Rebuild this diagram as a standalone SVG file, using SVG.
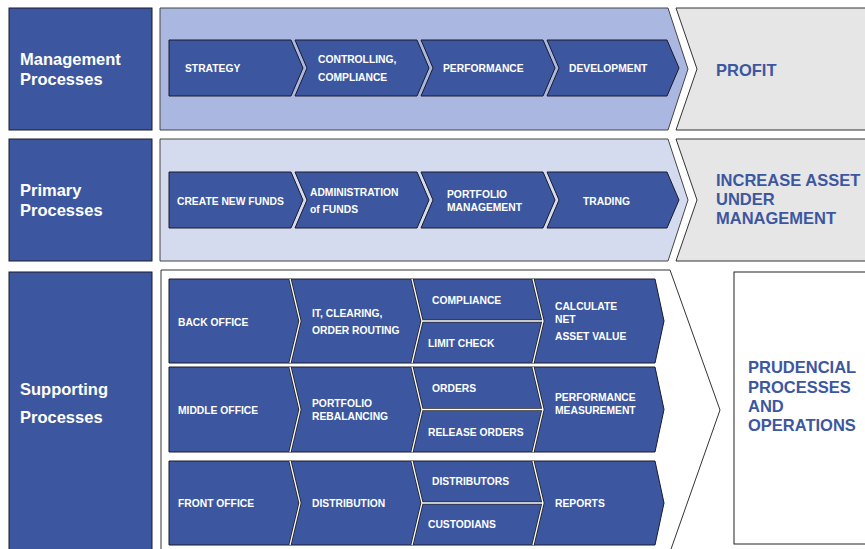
<svg xmlns="http://www.w3.org/2000/svg" width="865" height="549" viewBox="0 0 865 549">
<style>
.lbl{fill:#3c57a0;stroke:#1a1a2a;stroke-width:1}
.big{font-family:"Liberation Sans",Arial,sans-serif;font-weight:bold;font-size:16.5px;fill:#fff}
.res{font-family:"Liberation Sans",Arial,sans-serif;font-weight:bold;font-size:16.5px;fill:#3c57a0}
.sm{font-family:"Liberation Sans",Arial,sans-serif;font-weight:bold;font-size:10.3px;fill:#fff}
.chev{fill:#3c57a0;stroke:#1a1a2a;stroke-width:1}
.grey{fill:#e6e6e6;stroke:#333;stroke-width:1}
.sepd{fill:none;stroke:#222;stroke-width:3}
.sepw{fill:none;stroke:#fff;stroke-width:1.3}
</style>
<rect width="865" height="549" fill="#fff"/>

<!-- Management row -->
<g id="mgmt-label">
<rect class="lbl" x="9" y="8" width="143" height="122"/>
<text class="big" x="20" y="65">Management</text>
<text class="big" x="20" y="85">Processes</text>
</g>
<g id="mgmt-band">
<polygon points="160,8 668,8 688,69 668,130 160,130" fill="#aab7e0" stroke="#444" stroke-width="1"/>
</g>
<g id="strategy">
<polygon class="chev" points="169,40 291,40 303,68 291,96 169,96"/>
<text class="sm" x="185" y="72">STRATEGY</text>
</g>
<g id="controlling">
<polygon class="chev" points="295,40 417,40 429,68 417,96 295,96 307,68"/>
<text class="sm" x="318" y="63">CONTROLLING,</text>
<text class="sm" x="318" y="81">COMPLIANCE</text>
</g>
<g id="performance">
<polygon class="chev" points="421,40 543,40 555,68 543,96 421,96 433,68"/>
<text class="sm" x="443" y="72">PERFORMANCE</text>
</g>
<g id="development">
<polygon class="chev" points="547,40 667,40 679,68 667,96 547,96 559,68"/>
<text class="sm" x="569" y="72">DEVELOPMENT</text>
</g>
<g id="profit">
<polygon class="grey" points="676,8 866,8 866,130 676,130 697,69"/>
<text class="res" x="716" y="76">PROFIT</text>
</g>

<!-- Primary row -->
<g id="primary-label">
<rect class="lbl" x="9" y="139" width="143" height="122"/>
<text class="big" x="20" y="196">Primary</text>
<text class="big" x="20" y="216">Processes</text>
</g>
<g id="primary-band">
<polygon points="160,139 668,139 688,200 668,261 160,261" fill="#d5dbef" stroke="#444" stroke-width="1"/>
</g>
<g id="create-funds">
<polygon class="chev" points="169,172 291,172 303,200 291,228 169,228"/>
<text class="sm" x="177" y="205">CREATE NEW FUNDS</text>
</g>
<g id="administration">
<polygon class="chev" points="295,172 417,172 429,200 417,228 295,228 307,200"/>
<text class="sm" x="310" y="196">ADMINISTRATION</text>
<text class="sm" x="310" y="213">of FUNDS</text>
</g>
<g id="portfolio-mgmt">
<polygon class="chev" points="421,172 543,172 555,200 543,228 421,228 433,200"/>
<text class="sm" x="447" y="198">PORTFOLIO</text>
<text class="sm" x="447" y="211">MANAGEMENT</text>
</g>
<g id="trading">
<polygon class="chev" points="547,172 667,172 679,200 667,228 547,228 559,200"/>
<text class="sm" x="583" y="205">TRADING</text>
</g>
<g id="increase-aum">
<polygon class="grey" points="676,139 866,139 866,261 676,261 697,200"/>
<text class="res" x="716" y="186">INCREASE ASSET</text>
<text class="res" x="716" y="205">UNDER</text>
<text class="res" x="716" y="224">MANAGEMENT</text>
</g>

<!-- Supporting -->
<g id="supporting-label">
<rect class="lbl" x="9" y="272" width="143" height="280"/>
<text class="big" x="20" y="395">Supporting</text>
<text class="big" x="20" y="423">Processes</text>
</g>
<g id="supporting-frame">
<polyline points="161,552 161,270 670,270 720,410 670,552" fill="#fff" stroke="#333" stroke-width="1"/>
</g>

<g id="back-office-row">
<polygon class="chev" points="169,279 655,279 664,321 655,363 169,363"/>
<path class="sepd" d="M290,279 L300,321 L290,363 M412,279 L422,321 L412,363 M533,279 L543,321 L533,363 M422,321 L543,321"/>
<path class="sepw" d="M290,279 L300,321 L290,363 M412,279 L422,321 L412,363 M533,279 L543,321 L533,363 M422,321 L543,321"/>
<text class="sm" x="178" y="326">BACK OFFICE</text>
<text class="sm" x="312" y="317">IT, CLEARING,</text>
<text class="sm" x="312" y="334">ORDER ROUTING</text>
<text class="sm" x="432" y="304">COMPLIANCE</text>
<text class="sm" x="428" y="347">LIMIT CHECK</text>
<text class="sm" x="555" y="310">CALCULATE</text>
<text class="sm" x="555" y="323">NET</text>
<text class="sm" x="555" y="340">ASSET VALUE</text>
</g>

<g id="middle-office-row">
<polygon class="chev" points="169,367 655,367 664,409.5 655,452 169,452"/>
<path class="sepd" d="M290,367 L300,409.5 L290,452 M412,367 L422,409.5 L412,452 M533,367 L543,409.5 L533,452 M422,409.5 L543,409.5"/>
<path class="sepw" d="M290,367 L300,409.5 L290,452 M412,367 L422,409.5 L412,452 M533,367 L543,409.5 L533,452 M422,409.5 L543,409.5"/>
<text class="sm" x="178" y="414">MIDDLE OFFICE</text>
<text class="sm" x="312" y="407">PORTFOLIO</text>
<text class="sm" x="312" y="420">REBALANCING</text>
<text class="sm" x="432" y="392">ORDERS</text>
<text class="sm" x="428" y="436">RELEASE ORDERS</text>
<text class="sm" x="555" y="401">PERFORMANCE</text>
<text class="sm" x="555" y="414">MEASUREMENT</text>
</g>

<g id="front-office-row">
<polygon class="chev" points="169,461 655,461 664,503 655,545 169,545"/>
<path class="sepd" d="M290,461 L300,503 L290,545 M412,461 L422,503 L412,545 M533,461 L543,503 L533,545 M422,503 L543,503"/>
<path class="sepw" d="M290,461 L300,503 L290,545 M412,461 L422,503 L412,545 M533,461 L543,503 L533,545 M422,503 L543,503"/>
<text class="sm" x="178" y="507">FRONT OFFICE</text>
<text class="sm" x="312" y="507">DISTRIBUTION</text>
<text class="sm" x="432" y="485">DISTRIBUTORS</text>
<text class="sm" x="428" y="528">CUSTODIANS</text>
<text class="sm" x="555" y="507">REPORTS</text>
</g>

<g id="prudencial">
<rect x="734" y="272" width="133" height="272" fill="#fff" stroke="#222" stroke-width="1"/>
<text class="res" x="748" y="373">PRUDENCIAL</text>
<text class="res" x="748" y="393">PROCESSES</text>
<text class="res" x="748" y="412">AND</text>
<text class="res" x="748" y="431">OPERATIONS</text>
</g>
</svg>
